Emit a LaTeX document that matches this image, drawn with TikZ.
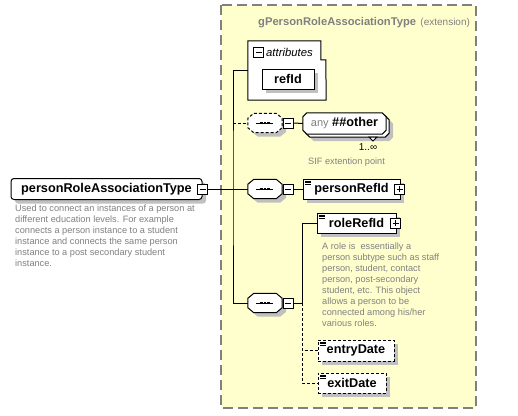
\documentclass[tikz,border=0pt]{standalone}
\usepackage{fontspec}
\setmainfont{Liberation Sans}
\usepackage{tikz}
\usetikzlibrary{shadows}
\pgfdeclarelayer{back}
\pgfdeclarelayer{bg}
\pgfsetlayers{back,bg,main}

\begin{document}
\begin{tikzpicture}[x=1pt,y=-1pt,
    shad/.style={drop shadow={shadow xshift=4pt,shadow yshift=-4pt,fill=custcol_c0_c0_c0,opacity=1}},
    wire/.style={line width=1pt},
    optwire/.style={line width=1pt,dash pattern=on 3pt off 2pt},
    elem/.style={draw,fill=white,line width=1pt,minimum height=20pt,inner sep=0pt,font=\xsdfontA,shad},
    optelem/.style={elem,dash pattern=on 3pt off 2pt},
    comp/.style={minimum width=34pt,minimum height=19pt,inner sep=0pt},
    pm/.style={draw,fill=white,line width=1pt,minimum size=10pt,inner sep=0pt},
    desc/.style={font=\xsdfontC,text=custcol_80_80_80,align=left,inner sep=0pt,anchor=north west}]
    \def\xsdfontA{\fontsize{12.7pt}{14pt}\bfseries\selectfont} % element names
    \def\xsdfontB{\fontsize{11.2pt}{13pt}\bfseries\selectfont} % group title
    \def\xsdfontC{\fontsize{9.2pt}{11pt}\selectfont} % annotations
    \def\xsdfontD{\fontsize{10pt}{12pt}\selectfont}
    \def\xsdfontE{\fontsize{11.3pt}{12pt}\itshape\selectfont}
    \def\xsdfontF{\fontsize{11pt}{12pt}\mdseries\selectfont}
    % octagon round node #1, chamfer #2/#3, shifted by (#4,#5)
    \def\xsdoct#1#2#3#4#5{([shift={(#4+#2,#5)}]#1.north west) -- ([shift={(#4-#2,#5)}]#1.north east)
        -- ([shift={(#4,#5+#3)}]#1.north east) -- ([shift={(#4,#5-#3)}]#1.south east)
        -- ([shift={(#4-#2,#5)}]#1.south east) -- ([shift={(#4+#2,#5)}]#1.south west)
        -- ([shift={(#4,#5-#3)}]#1.south west) -- ([shift={(#4,#5+#3)}]#1.north west) -- cycle}
    \def\xsdminus#1{\draw[wire] ([xshift=-3pt]#1.center) -- ([xshift=3pt]#1.center);}
    \def\xsdplus#1{\xsdminus{#1}\draw[wire] ([yshift=-3pt]#1.center) -- ([yshift=3pt]#1.center);}
    \def\xsdseq#1{\draw[wire] ([xshift=-9pt]#1.center) -- ([xshift=8pt]#1.center);
        \foreach \dx in {-3.4,0,3.4} \fill ([xshift=\dx pt]#1.center) +(-1.3,-1.3) rectangle +(1.3,1.3);}
    \def\xsdicon#1{\foreach \dy in {2.5,4,5.5} \draw[line width=0.6pt] ([shift={(2,\dy)}]#1.north west) -- ++(6,0);}
    \definecolor{custcol_ff_ff_cc}{RGB}{255, 255, 206}
    \definecolor{custcol_80_80_80}{RGB}{128, 128, 128}
    \definecolor{custcol_c0_c0_c0}{RGB}{192, 192, 192}
    \useasboundingbox (0,0) rectangle (518,415);
    % group box
    \begin{pgfonlayer}{back}
    \fill [white] (0,0) rectangle (518,415);
    \draw [line width=1.5pt, custcol_80_80_80, fill=custcol_ff_ff_cc, dash pattern=on 10pt off 5pt] (221,5) rectangle (476,408);
    \end{pgfonlayer}
    \node[inner sep=0, anchor=base west, text=custcol_80_80_80, font=\xsdfontB] (gtitle) at (258,25) {gPersonRoleAssociationType};
    \node[inner sep=0, anchor=base west, text=custcol_80_80_80, font=\xsdfontD] (gext) at ([xshift=4pt]gtitle.base east) {(extension)};
    % complex type
    \node[elem, rounded corners=3pt, minimum width=191pt, minimum height=21pt] (prat) at (106.5,189) {personRoleAssociationType};
    \node[pm] (prat-m) at (prat.east) {};
    \xsdminus{prat-m}
    \node[desc] (prat-d) at (15,205) {Used to connect an instances of a person at\\different education levels. For example\\connects a person instance to a student\\instance and connects the same person\\instance to a post secondary student\\instance.};
    \coordinate (trunk) at (233,189);
    % attributes
    \node[minimum width=78pt, minimum height=59pt, inner sep=0] (attr) at (287,70.5) {};
    \draw [wire, fill=white] (attr.north west) -- ++(73,0) -- ++(0,19) -- ++(5,0) -- (attr.south east) -- (attr.south west) -- cycle;
    \node[pm] (attr-m) at (258.5,52) {};
    \xsdminus{attr-m}
    \node[inner sep=0, anchor=west, font=\xsdfontE] (attr-l) at (266,52) {attributes};
    \node[elem, minimum width=52pt] (refid) at (288,79) {refId};
    % any ##other
    \node[comp] (seq1) at (265,123) {};
    \node[pm] (seq1-m) at ([xshift=6pt]seq1.east) {};
    \node[minimum width=83pt, minimum height=21pt, inner sep=0, font=\xsdfontA] (any) at (344.5,123.5) {{\xsdfontF\color{custcol_80_80_80}any} \#\#other};
    \begin{pgfonlayer}{bg}
    \fill [custcol_c0_c0_c0] \xsdoct{seq1}{6}{5}{4}{4};
    \draw [wire, fill=white, dash pattern=on 3pt off 2pt] \xsdoct{seq1}{6}{5}{0}{0};
    \fill [custcol_c0_c0_c0] \xsdoct{any}{4}{4}{7}{7};
    \draw [wire, fill=white] \xsdoct{any}{4}{4}{3}{3};
    \draw [wire, fill=white] \xsdoct{any}{4}{4}{0}{0};
    \end{pgfonlayer}
    \xsdseq{seq1}
    \xsdminus{seq1-m}
    \draw [wire, fill=white] (369,137) -- (377,137) -- (373,141) -- cycle;
    \node[inner sep=0, font=\xsdfontD] (any-n) at (368,147) {1..∞};
    \node[desc, anchor=west] (any-d) at (308,162.5) {SIF extention point};
    % personRefId
    \node[comp] (seq2) at (265,189) {};
    \begin{pgfonlayer}{bg}
    \fill [custcol_c0_c0_c0] \xsdoct{seq2}{6}{5}{4}{4};
    \draw [wire, fill=white] \xsdoct{seq2}{6}{5}{0}{0};
    \end{pgfonlayer}
    \xsdseq{seq2}
    \node[pm] (seq2-m) at ([xshift=6pt]seq2.east) {};
    \xsdminus{seq2-m}
    \node[elem, minimum width=97pt] (prid) at (351.5,189) {personRefId};
    \xsdicon{prid}
    \node[pm] (prid-p) at ([xshift=-1pt]prid.east) {};
    \xsdplus{prid-p}
    % roleRefId, entryDate, exitDate
    \node[comp] (seq3) at (265,303) {};
    \begin{pgfonlayer}{bg}
    \fill [custcol_c0_c0_c0] \xsdoct{seq3}{6}{5}{4}{4};
    \draw [wire, fill=white] \xsdoct{seq3}{6}{5}{0}{0};
    \end{pgfonlayer}
    \xsdseq{seq3}
    \node[pm] (seq3-m) at ([xshift=6pt]seq3.east) {};
    \xsdminus{seq3-m}
    \coordinate (br) at (302,303);
    \node[elem, minimum width=79pt] (rrid) at (356.5,223) {roleRefId};
    \xsdicon{rrid}
    \node[pm] (rrid-p) at ([xshift=-1pt]rrid.east) {};
    \xsdplus{rrid-p}
    \node[desc] (rrid-d) at (322,242.5) {A role is\ \ essentially a\\person subtype such as staff\\person, student, contact\\person, post-secondary\\student, etc. This object\\allows a person to be\\connected among his/her\\various roles.};
    \node[optelem, minimum width=76pt, minimum height=21pt] (entry) at (356,350.5) {entryDate};
    \xsdicon{entry}
    \node[optelem, minimum width=68pt] (exit) at (352,383) {exitDate};
    \xsdicon{exit}
    % connectors
    \draw [wire] (prat-m.east) -- (trunk);
    \draw [wire] (attr.west) -| (trunk) |- (seq3.west);
    \draw [optwire] (trunk |- seq1.west) -- (seq1.west);
    \draw [wire] (trunk) -- (seq2.west);
    \draw [wire] (seq1-m.east) -- (any.west);
    \draw [wire] (seq2-m.east) -- (prid.west);
    \draw [wire] (seq3-m.east) -- (br) |- (rrid.west);
    \draw [optwire] (br) |- (entry.west);
    \draw [optwire] (br) |- (exit.west);
\end{tikzpicture}
\end{document}
